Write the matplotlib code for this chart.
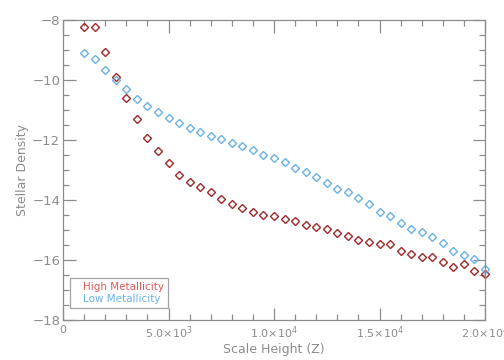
import matplotlib
matplotlib.use("Agg")
import matplotlib.pyplot as plt
from matplotlib.ticker import MultipleLocator, FixedLocator, FixedFormatter

scale_height = [1000, 1500, 2000, 2500, 3000, 3500, 4000, 4500, 5000, 5500,
                6000, 6500, 7000, 7500, 8000, 8500, 9000, 9500, 10000, 10500,
                11000, 11500, 12000, 12500, 13000, 13500, 14000, 14500, 15000, 15500,
                16000, 16500, 17000, 17500, 18000, 18500, 19000, 19500, 20000]
high_metal = [-8.25, -8.25, -9.05, -9.89, -10.59, -11.31, -11.94, -12.37, -12.78, -13.18,
              -13.40, -13.58, -13.74, -13.98, -14.14, -14.26, -14.41, -14.49, -14.52, -14.62,
              -14.71, -14.83, -14.90, -14.98, -15.10, -15.19, -15.32, -15.40, -15.47, -15.46,
              -15.70, -15.81, -15.91, -15.91, -16.06, -16.23, -16.12, -16.36, -16.47]
low_metal = [-9.11, -9.31, -9.68, -10.00, -10.31, -10.63, -10.87, -11.08, -11.28, -11.44,
             -11.59, -11.74, -11.87, -11.98, -12.10, -12.19, -12.33, -12.49, -12.61, -12.73,
             -12.94, -13.06, -13.24, -13.42, -13.62, -13.74, -13.94, -14.12, -14.40, -14.54,
             -14.76, -14.96, -15.07, -15.23, -15.44, -15.69, -15.82, -15.98, -16.30]

x_ticks = [0, 5000, 10000, 15000, 20000]
x_ticklabels = ["0", r"$5.0{\times}10^{3}$", r"$1.0{\times}10^{4}$",
                r"$1.5{\times}10^{4}$", r"$2.0{\times}10^{4}$"]

gray = "#8c8c8c"
red = "#a02828"
blue = "#6ab2e6"

fig = plt.figure(figsize=(5.04, 3.6), dpi=100)
ax = fig.add_axes([63/504, 1 - 320/360, (485-63)/504, (320-20)/360])

ax.plot(scale_height, high_metal, linestyle="none", marker="D", markersize=4.5,
        markerfacecolor="none", markeredgecolor=red, markeredgewidth=1.0,
        label="High Metallicity", clip_on=False)
ax.plot(scale_height, low_metal, linestyle="none", marker="D", markersize=4.5,
        markerfacecolor="none", markeredgecolor=blue, markeredgewidth=1.0,
        label="Low Metallicity", clip_on=False)

ax.set_xlim(0, 20000)
ax.set_ylim(-18, -8)
ax.xaxis.set_major_locator(FixedLocator(x_ticks))
ax.xaxis.set_major_formatter(FixedFormatter(x_ticklabels))
ax.xaxis.set_minor_locator(MultipleLocator(1000))
ax.yaxis.set_major_locator(MultipleLocator(2))
ax.yaxis.set_minor_locator(MultipleLocator(0.5))

for s in ax.spines.values():
    s.set_color(gray)
    s.set_linewidth(0.9)
ax.tick_params(which="both", direction="in", top=True, right=True, colors=gray,
               labelcolor=gray, width=0.9)
ax.tick_params(which="major", length=9)
ax.tick_params(which="minor", length=4.5)
ax.tick_params(axis="x", which="major", labelsize=8, pad=3.5)
ax.tick_params(axis="y", which="major", labelsize=9.5, pad=2)

ax.set_xlabel("Scale Height (Z)", color=gray, fontsize=9, labelpad=1)
ax.set_ylabel("Stellar Density", color=gray, fontsize=9, labelpad=2)

leg = ax.legend(loc="lower left", bbox_to_anchor=(0.017, 0.04), borderaxespad=0,
                handlelength=0, handletextpad=0.8, markerscale=0, fontsize=7.5,
                frameon=True, fancybox=False, borderpad=0.4, labelspacing=0.15)
leg.get_frame().set_edgecolor(gray)
leg.get_frame().set_linewidth(0.9)
for txt, c in zip(leg.get_texts(), ["#e05a5a", "#6ab2e6"]):
    txt.set_color(c)
for h in leg.legend_handles:
    h.set_visible(False)

fig.savefig("out.png", dpi=100)
